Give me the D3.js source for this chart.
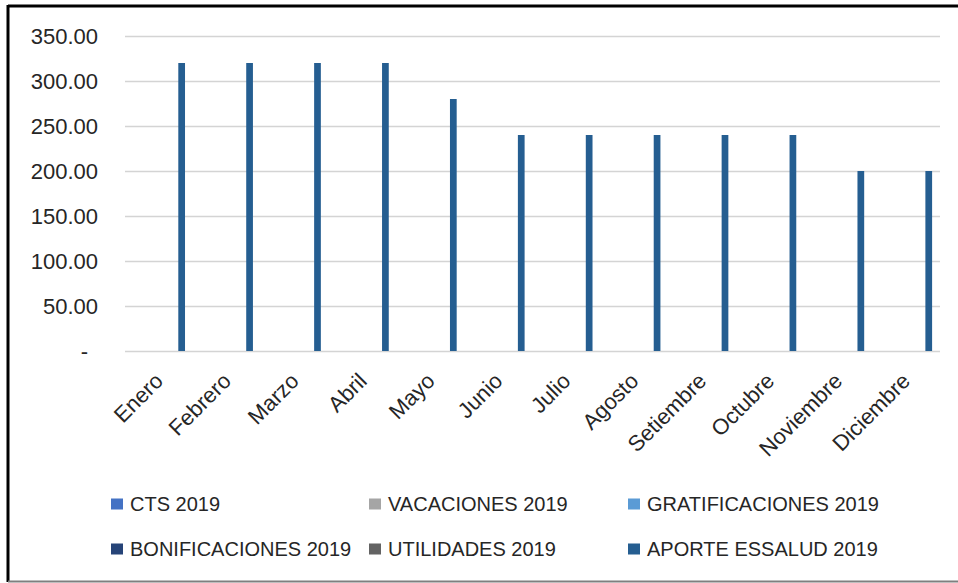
<!DOCTYPE html>
<html>
<head>
<meta charset="utf-8">
<script src="https://cdn.jsdelivr.net/npm/d3@7"></script>
<style>
  body { margin: 0; background: #fff; }
  text { font-family: "Liberation Sans", Arial, sans-serif; fill: #262626; }
</style>
</head>
<body>
<div id="chart"></div>
<script>
// months on the x axis
const months = ["Enero", "Febrero", "Marzo", "Abril", "Mayo", "Junio", "Julio",
                "Agosto", "Setiembre", "Octubre", "Noviembre", "Diciembre"];

const seriesNames = ["CTS 2019", "VACACIONES 2019", "GRATIFICACIONES 2019",
                     "BONIFICACIONES 2019", "UTILIDADES 2019", "APORTE ESSALUD 2019"];
const seriesColors = ["#4472c4", "#a5a5a5", "#5b9bd5", "#264478", "#636363", "#255e91"];

// only the last series carries values, the rest are empty
const cts2019 = [0, 0, 0, 0, 0, 0, 0, 0, 0, 0, 0, 0];
const vacaciones2019 = [0, 0, 0, 0, 0, 0, 0, 0, 0, 0, 0, 0];
const gratificaciones2019 = [0, 0, 0, 0, 0, 0, 0, 0, 0, 0, 0, 0];
const bonificaciones2019 = [0, 0, 0, 0, 0, 0, 0, 0, 0, 0, 0, 0];
const utilidades2019 = [0, 0, 0, 0, 0, 0, 0, 0, 0, 0, 0, 0];
const essalud2019 = [320, 320, 320, 320, 280, 240, 240, 240, 240, 240, 200, 200];

const yTicks = [0, 50, 100, 150, 200, 250, 300, 350];

const allSeries = [cts2019, vacaciones2019, gratificaciones2019,
                   bonificaciones2019, utilidades2019, essalud2019];

const width = 958, height = 583;
const margin = {top: 36, right: 18, bottom: 232, left: 125};

const svg = d3.select("#chart").append("svg")
    .attr("width", width)
    .attr("height", height);

// outer frame of the pasted excel chart
svg.append("line").attr("x1", 8).attr("x2", width).attr("y1", 6).attr("y2", 6)
    .attr("stroke", "#000").attr("stroke-width", 3);
svg.append("line").attr("x1", 8).attr("x2", 8).attr("y1", 5).attr("y2", 582)
    .attr("stroke", "#000").attr("stroke-width", 3);
svg.append("line").attr("x1", 8).attr("x2", width).attr("y1", 581.5).attr("y2", 581.5)
    .attr("stroke", "#7f7f7f").attr("stroke-width", 2);

const x = d3.scaleBand()
    .domain(months)
    .range([margin.left, width - margin.right]);

// inner scale so the bars sit where excel put them in each group
const xs = d3.scaleBand()
    .domain(d3.range(seriesNames.length))
    .range([0, x.bandwidth()])
    .paddingInner(0.26)
    .paddingOuter(0.87);

const y = d3.scaleLinear()
    .domain([0, 350])
    .range([height - margin.bottom, margin.top]);

// gridlines
svg.append("g")
    .selectAll("line")
    .data(yTicks)
    .join("line")
    .attr("x1", margin.left)
    .attr("x2", width - margin.right)
    .attr("y1", d => Math.round(y(d)) + 0.5)
    .attr("y2", d => Math.round(y(d)) + 0.5)
    .attr("stroke", "#d4d4d4")
    .attr("stroke-width", 1.5);

// y labels
const yAxis = d3.axisLeft(y)
    .tickValues(yTicks)
    .tickSize(0)
    .tickPadding(0)
    .tickFormat(d => d === 0 ? "-" : d3.format(".2f")(d));

svg.append("g")
    .attr("transform", "translate(98,0)")
    .call(yAxis)
    .call(g => g.select(".domain").remove())
    .call(g => g.selectAll("text")
        .attr("font-size", 22)
        .attr("font-family", "Liberation Sans, Arial, sans-serif")
        .attr("fill", "#262626")
        .attr("dy", "0.35em")
        .attr("dx", d => d === 0 ? -10 : 0));

// bars
const groups = svg.append("g")
    .selectAll("g")
    .data(allSeries)
    .join("g")
    .attr("fill", (d, i) => seriesColors[i]);

groups.each(function(vals, si) {
  d3.select(this).selectAll("rect")
    .data(vals.map((v, mi) => ({v: v, m: months[mi]})))
    .join("rect")
    .attr("x", d => x(d.m) + xs(si))
    .attr("width", xs.bandwidth())
    .attr("y", d => y(d.v))
    .attr("height", d => y(0) - y(d.v));
});

// x labels
svg.append("g")
    .selectAll("text")
    .data(months)
    .join("text")
    .attr("transform", d => `translate(${x(d) + x.bandwidth() / 2},${y(0) + 26}) rotate(-45)`)
    .attr("text-anchor", "end")
    .attr("dy", "0.35em")
    .attr("font-size", 22)
    .text(d => d);

// legend, two rows of three
const legendX = [111, 369, 628];
const legendY = [504, 549];

const legend = svg.append("g")
    .selectAll("g")
    .data(seriesNames)
    .join("g")
    .attr("transform", (d, i) => `translate(${legendX[i % 3]},${legendY[Math.floor(i / 3)]})`);

legend.append("rect")
    .attr("x", 0)
    .attr("y", -5.5)
    .attr("width", 12)
    .attr("height", 11)
    .attr("fill", (d, i) => seriesColors[i]);

legend.append("text")
    .attr("x", 19)
    .attr("dy", "0.35em")
    .attr("font-size", 20)
    .text(d => d);
</script>
</body>
</html>
